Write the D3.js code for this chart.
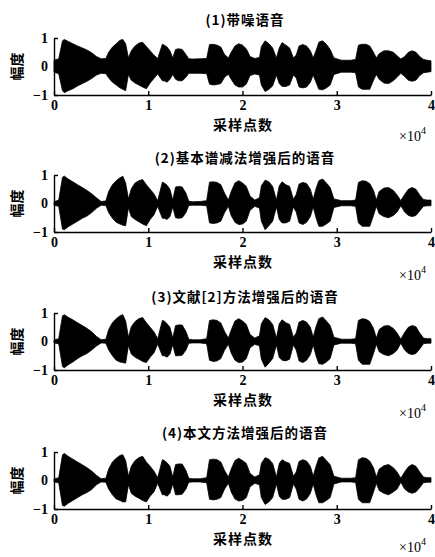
<!DOCTYPE html>
<html><head><meta charset="utf-8">
<script src="https://cdn.jsdelivr.net/npm/d3@7"></script>
<style>body{margin:0;background:#fff}svg{display:block}</style>
</head><body>
<script>
// ---- data (x in units of 10^4 samples) ----
const xTicks = [0, 1, 2, 3, 4];
const yTicks = [-1, 0, 1];
const titles = ["(1)带噪语音", "(2)基本谱减法增强后的语音", "(3)文献[2]方法增强后的语音", "(4)本文方法增强后的语音"];
const xLabel = "采样点数";
const yLabel = "幅度";

const pos = [0,0.05,0.09,0.11,0.15,0.2,0.25,0.3,0.35,0.4,0.45,0.5,0.55,0.58,0.62,0.66,0.7,0.73,0.76,0.79,0.82,0.86,0.9,0.94,0.98,1.02,1.06,1.1,1.15,1.17,1.2,1.23,1.26,1.29,1.32,1.36,1.4,1.43,1.47,1.55,1.62,1.65,1.69,1.73,1.77,1.81,1.85,1.88,1.92,1.96,2.0,2.04,2.08,2.13,2.18,2.2,2.24,2.28,2.32,2.36,2.39,2.42,2.46,2.5,2.54,2.57,2.6,2.64,2.68,2.72,2.75,2.78,2.81,2.85,2.89,2.93,2.97,3.05,3.15,3.2,3.23,3.27,3.31,3.35,3.39,3.42,3.45,3.5,3.55,3.6,3.64,3.68,3.72,3.76,3.8,3.84,3.88,3.92,3.96,4.0];

const noisyUpper = [0.22,0.27,0.9,0.95,0.88,0.8,0.72,0.65,0.58,0.48,0.35,0.27,0.28,0.5,0.68,0.8,0.92,0.95,0.8,0.3,0.55,0.72,0.82,0.85,0.7,0.55,0.4,0.28,0.78,0.75,0.68,0.55,0.3,0.6,0.62,0.6,0.42,0.27,0.26,0.27,0.28,0.77,0.78,0.75,0.68,0.42,0.3,0.5,0.72,0.8,0.75,0.62,0.35,0.28,0.32,0.7,0.9,0.8,0.65,0.3,0.65,0.84,0.75,0.65,0.3,0.4,0.72,0.77,0.72,0.55,0.3,0.55,0.85,0.9,0.78,0.6,0.3,0.22,0.22,0.25,0.75,0.78,0.78,0.72,0.5,0.3,0.45,0.55,0.55,0.5,0.38,0.26,0.35,0.5,0.55,0.5,0.35,0.25,0.22,0.2];
const noisyLower = [-0.2,-0.25,-0.85,-0.92,-0.85,-0.78,-0.68,-0.6,-0.52,-0.42,-0.3,-0.24,-0.25,-0.4,-0.55,-0.65,-0.75,-0.8,-0.85,-0.28,-0.48,-0.58,-0.65,-0.72,-0.78,-0.58,-0.42,-0.26,-0.5,-0.5,-0.55,-0.45,-0.28,-0.45,-0.5,-0.5,-0.38,-0.24,-0.24,-0.24,-0.25,-0.62,-0.65,-0.63,-0.6,-0.38,-0.27,-0.45,-0.65,-0.72,-0.72,-0.62,-0.32,-0.26,-0.3,-0.65,-0.88,-0.8,-0.68,-0.3,-0.6,-0.7,-0.7,-0.65,-0.3,-0.4,-0.72,-0.75,-0.72,-0.55,-0.3,-0.55,-0.8,-0.82,-0.75,-0.65,-0.28,-0.2,-0.2,-0.22,-0.72,-0.8,-0.8,-0.8,-0.48,-0.28,-0.45,-0.58,-0.6,-0.5,-0.38,-0.24,-0.35,-0.48,-0.52,-0.48,-0.32,-0.22,-0.2,-0.18];

const specSubUpper = [0.06,0.12,0.92,0.96,0.86,0.76,0.66,0.56,0.46,0.34,0.2,0.07,0.09,0.42,0.66,0.8,0.9,0.96,0.72,0.16,0.52,0.72,0.8,0.84,0.66,0.5,0.34,0.1,0.75,0.72,0.64,0.5,0.12,0.58,0.6,0.58,0.36,0.08,0.06,0.07,0.1,0.75,0.76,0.74,0.66,0.36,0.12,0.42,0.72,0.8,0.72,0.6,0.26,0.12,0.2,0.62,0.82,0.76,0.6,0.12,0.62,0.76,0.66,0.6,0.15,0.32,0.68,0.74,0.7,0.5,0.15,0.52,0.8,0.86,0.72,0.56,0.16,0.1,0.1,0.12,0.74,0.8,0.78,0.7,0.46,0.12,0.42,0.54,0.56,0.46,0.3,0.1,0.32,0.5,0.56,0.5,0.3,0.14,0.12,0.12];
const specSubLower = [-0.06,-0.1,-0.9,-0.92,-0.82,-0.72,-0.62,-0.52,-0.44,-0.32,-0.17,-0.06,-0.07,-0.32,-0.52,-0.66,-0.72,-0.76,-0.78,-0.15,-0.46,-0.56,-0.64,-0.72,-0.78,-0.56,-0.4,-0.1,-0.52,-0.52,-0.56,-0.46,-0.12,-0.5,-0.52,-0.5,-0.32,-0.07,-0.06,-0.06,-0.08,-0.68,-0.7,-0.68,-0.62,-0.32,-0.1,-0.42,-0.66,-0.74,-0.72,-0.62,-0.24,-0.1,-0.16,-0.62,-0.92,-0.78,-0.62,-0.12,-0.56,-0.68,-0.68,-0.62,-0.12,-0.3,-0.68,-0.74,-0.66,-0.46,-0.12,-0.5,-0.8,-0.8,-0.72,-0.62,-0.14,-0.08,-0.08,-0.1,-0.68,-0.8,-0.8,-0.8,-0.42,-0.1,-0.36,-0.46,-0.5,-0.42,-0.3,-0.08,-0.3,-0.42,-0.46,-0.42,-0.26,-0.1,-0.08,-0.08];

const ref2Upper = [0.05,0.1,0.9,0.94,0.85,0.76,0.66,0.56,0.46,0.34,0.18,0.06,0.08,0.42,0.66,0.8,0.9,0.94,0.72,0.15,0.52,0.7,0.8,0.84,0.66,0.5,0.34,0.1,0.74,0.72,0.62,0.5,0.12,0.56,0.58,0.58,0.35,0.08,0.06,0.06,0.1,0.74,0.76,0.74,0.65,0.35,0.12,0.4,0.72,0.8,0.72,0.6,0.25,0.12,0.2,0.62,0.84,0.76,0.6,0.12,0.62,0.76,0.66,0.6,0.15,0.3,0.68,0.74,0.68,0.5,0.15,0.52,0.8,0.86,0.72,0.56,0.15,0.08,0.08,0.1,0.74,0.8,0.78,0.7,0.46,0.12,0.42,0.54,0.56,0.46,0.3,0.08,0.32,0.5,0.56,0.52,0.3,0.12,0.1,0.1];
const ref2Lower = [-0.05,-0.08,-0.88,-0.92,-0.82,-0.72,-0.6,-0.5,-0.42,-0.3,-0.16,-0.05,-0.06,-0.3,-0.5,-0.66,-0.72,-0.74,-0.76,-0.14,-0.44,-0.55,-0.62,-0.7,-0.74,-0.55,-0.4,-0.09,-0.5,-0.5,-0.55,-0.45,-0.11,-0.5,-0.5,-0.48,-0.3,-0.06,-0.05,-0.05,-0.08,-0.66,-0.7,-0.68,-0.6,-0.3,-0.1,-0.4,-0.66,-0.74,-0.72,-0.6,-0.22,-0.1,-0.15,-0.62,-0.9,-0.76,-0.6,-0.12,-0.56,-0.66,-0.68,-0.62,-0.12,-0.3,-0.68,-0.74,-0.66,-0.46,-0.12,-0.5,-0.78,-0.8,-0.72,-0.6,-0.12,-0.06,-0.06,-0.08,-0.66,-0.8,-0.8,-0.8,-0.42,-0.1,-0.36,-0.46,-0.5,-0.42,-0.3,-0.06,-0.3,-0.42,-0.46,-0.42,-0.26,-0.08,-0.06,-0.06];

const oursUpper = [0.05,0.1,0.9,0.95,0.85,0.75,0.65,0.55,0.45,0.33,0.18,0.06,0.08,0.4,0.65,0.78,0.88,0.9,0.7,0.15,0.5,0.7,0.8,0.85,0.65,0.5,0.33,0.1,0.73,0.7,0.62,0.5,0.12,0.56,0.58,0.58,0.35,0.08,0.06,0.06,0.1,0.73,0.75,0.73,0.65,0.35,0.12,0.4,0.7,0.78,0.7,0.6,0.25,0.12,0.2,0.6,0.8,0.75,0.6,0.12,0.6,0.73,0.65,0.6,0.15,0.3,0.67,0.73,0.68,0.5,0.15,0.5,0.79,0.85,0.7,0.55,0.15,0.08,0.08,0.1,0.73,0.8,0.78,0.68,0.45,0.12,0.4,0.52,0.56,0.45,0.3,0.08,0.3,0.48,0.56,0.5,0.3,0.12,0.1,0.1];
const oursLower = [-0.05,-0.08,-0.88,-0.9,-0.8,-0.7,-0.6,-0.5,-0.42,-0.32,-0.15,-0.05,-0.06,-0.3,-0.5,-0.65,-0.7,-0.75,-0.75,-0.15,-0.45,-0.55,-0.62,-0.7,-0.75,-0.55,-0.4,-0.1,-0.5,-0.5,-0.55,-0.45,-0.12,-0.5,-0.5,-0.48,-0.3,-0.06,-0.05,-0.05,-0.08,-0.66,-0.68,-0.66,-0.6,-0.3,-0.1,-0.4,-0.65,-0.72,-0.7,-0.6,-0.22,-0.1,-0.15,-0.6,-0.84,-0.75,-0.6,-0.12,-0.55,-0.66,-0.66,-0.6,-0.12,-0.3,-0.66,-0.72,-0.65,-0.45,-0.12,-0.5,-0.78,-0.78,-0.7,-0.6,-0.12,-0.05,-0.05,-0.07,-0.66,-0.78,-0.78,-0.78,-0.4,-0.1,-0.35,-0.45,-0.5,-0.4,-0.3,-0.06,-0.3,-0.4,-0.45,-0.4,-0.25,-0.08,-0.06,-0.06];

const series = [
  {upper: noisyUpper, lower: noisyLower},
  {upper: specSubUpper, lower: specSubLower},
  {upper: ref2Upper, lower: ref2Lower},
  {upper: oursUpper, lower: oursLower}
];

// ---- layout ----
const W = 435, H = 557;
const panelTops = [38, 175, 313, 452];
const titleOffsets = [13, 12, 11, 14];
const expOffsets = [46, 48, 48, 43];
const panelH = 57;
const xL = 54, xR = 431;
const numFont = "'Liberation Serif','Times New Roman',serif";
const cjkFont = "'Noto Sans CJK SC','Noto Sans CJK JP',sans-serif";

const svg = d3.select("body").append("svg").attr("width", W).attr("height", H);
const x = d3.scaleLinear().domain([0, 4]).range([xL, xR]);

series.forEach((s, i) => {
  const top = panelTops[i];
  const y = d3.scaleLinear().domain([-1, 1]).range([top + panelH, top]);
  const g = svg.append("g");

  const area = d3.area()
    .x((d, j) => x(pos[j]))
    .y0((d, j) => y(s.lower[j]))
    .y1((d, j) => y(s.upper[j]));
  g.append("path").attr("d", area(pos)).attr("fill", "#000").attr("stroke", "#000").attr("stroke-width", 0.8);

  // bottom axis
  const ax = g.append("g").attr("transform", `translate(0,${top + panelH})`)
    .call(d3.axisBottom(x).tickValues(xTicks).tickSizeInner(-4).tickSizeOuter(0).tickPadding(5).tickFormat(d3.format("d")));
  ax.selectAll("path,line").attr("stroke", "#000").attr("stroke-width", 1.4);
  ax.selectAll("text").attr("font-family", numFont).attr("font-size", 14).attr("font-weight", "bold").attr("fill", "#000");

  // left axis
  const ay = g.append("g").attr("transform", `translate(${xL},0)`)
    .call(d3.axisLeft(y).tickValues(yTicks).tickSizeInner(-4).tickSizeOuter(0).tickPadding(6)
      .tickFormat(d => d < 0 ? "−" + Math.abs(d) : String(d)));
  ay.selectAll("path,line").attr("stroke", "#000").attr("stroke-width", 1.4);
  ay.selectAll("text").attr("font-family", numFont).attr("font-size", 14).attr("font-weight", "bold").attr("fill", "#000");

  // title
  g.append("text").attr("x", 245).attr("y", top - titleOffsets[i]).attr("text-anchor", "middle")
    .attr("font-family", cjkFont).attr("font-size", 13.5).attr("font-weight", "bold")
    .attr("letter-spacing", 1).attr("fill", "#000")
    .text(titles[i]);

  // y label
  g.append("text").attr("transform", `translate(22,${top + panelH / 2}) rotate(-90)`).attr("text-anchor", "middle")
    .attr("font-family", cjkFont).attr("font-size", 14).attr("font-weight", "bold").attr("fill", "#000")
    .text(yLabel);

  // x label
  g.append("text").attr("x", 243).attr("y", top + panelH + 35).attr("text-anchor", "middle")
    .attr("font-family", cjkFont).attr("font-size", 14).attr("font-weight", "bold")
    .attr("letter-spacing", 1).attr("fill", "#000")
    .text(xLabel);

  // exponent
  const ex = g.append("text").attr("x", 399).attr("y", top + panelH + expOffsets[i])
    .attr("font-family", numFont).attr("font-size", 14).attr("fill", "#000");
  ex.append("tspan").text("×10");
  ex.append("tspan").attr("dy", -7).attr("font-size", 10).text("4");
});
</script>
</body></html>
